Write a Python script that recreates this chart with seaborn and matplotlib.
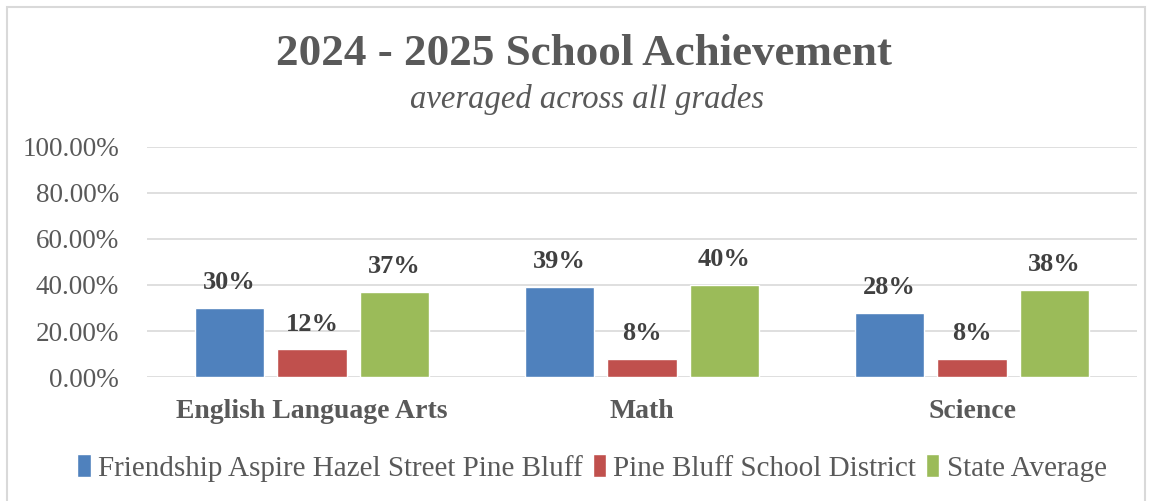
import pandas as pd
import numpy as np
import matplotlib
matplotlib.use("Agg")
import matplotlib.pyplot as plt
import seaborn as sns

subjects = ["English Language Arts", "Math", "Science"]
series = ["Friendship Aspire Hazel Street Pine Bluff", "Pine Bluff School District", "State Average"]
friendship = [30, 39, 28]
district = [12, 8, 8]
state = [37, 40, 38]
colors = ["#4f81bd", "#c0504d", "#9bbb59"]

data = pd.DataFrame({
    "Subject": subjects * 3,
    "Group": [series[0]] * 3 + [series[1]] * 3 + [series[2]] * 3,
    "Value": friendship + district + state,
})

sns.set_style("white")
plt.rcParams['font.family'] = ['Liberation Serif', 'DejaVu Serif']
grey = "#595959"

fig = plt.figure(figsize=(11.52, 5.01), dpi=100)
ax = fig.add_axes([0.1276, 0.2475, 0.8594, 0.4591])

sns.barplot(data=data, x="Subject", y="Value", hue="Group", hue_order=series,
            palette=colors, saturation=1, width=0.75, gap=0.16, ax=ax, legend=True)

ax.set_ylim(0, 100)
ax.set_xlim(-0.5, 2.5)
ax.set_yticks(np.arange(0, 101, 20))
ax.set_yticklabels([f"{v:.2f}%" for v in np.arange(0, 101, 20)], fontsize=19.5, color=grey)
ax.set_xticks(range(len(subjects)))
ax.set_xticklabels(subjects, fontsize=20, fontweight="bold", color=grey)
ax.tick_params(axis="y", length=0, pad=20)
ax.tick_params(axis="x", length=0, pad=16)
ax.yaxis.grid(True, color="#d9d9d9", linewidth=1.2)
ax.set_axisbelow(True)
for s in ax.spines.values():
    s.set_visible(False)
ax.set_xlabel("")
ax.set_ylabel("")

for cont in ax.containers:
    ax.bar_label(cont, labels=[f"{v:.0f}%" for v in cont.datavalues], padding=10,
                 fontsize=19, fontweight="bold", color="#404040")

h, l = ax.get_legend_handles_labels()
ax.legend_.remove()
fig.legend(h, l, loc="center", bbox_to_anchor=(0.514, 0.066), ncol=3, frameon=False,
           fontsize=21, handlelength=0.45, handleheight=0.8, handletextpad=0.25,
           columnspacing=0.35, labelcolor=grey)

fig.text(0.507, 0.893, "2024 - 2025 School Achievement", ha="center", va="center",
         fontsize=32.5, fontweight="bold", color=grey)
fig.text(0.51, 0.802, "averaged across all grades", ha="center", va="center",
         fontsize=23.5, style="italic", color=grey)

border = plt.Rectangle((0.006, -0.01), 0.988, 0.996, transform=fig.transFigure,
                       fill=False, edgecolor="#d9d9d9", linewidth=1.5)
fig.add_artist(border)

fig.savefig("out.png", dpi=100)
